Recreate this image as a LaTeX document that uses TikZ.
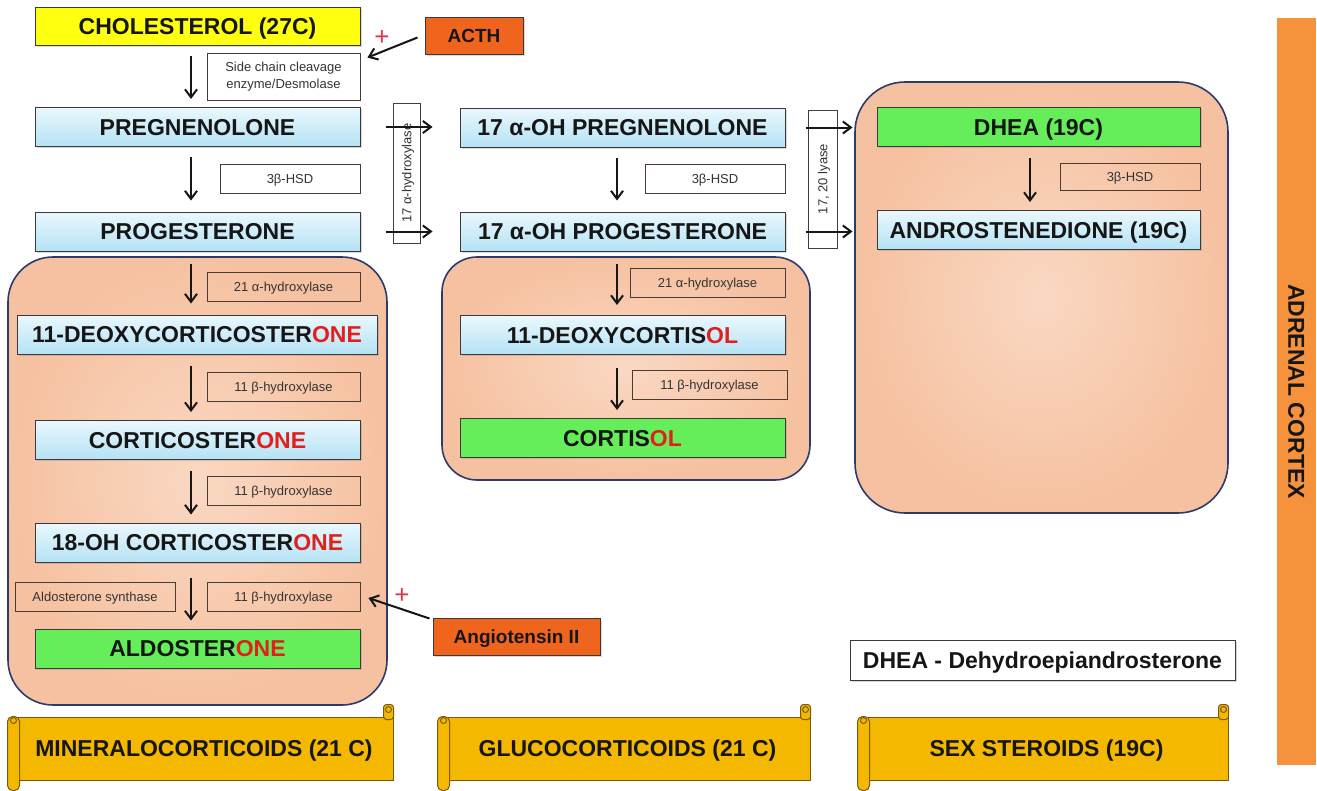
\documentclass[tikz,border=0pt]{standalone}
\usepackage{fontspec}
\setmainfont{Liberation Sans}
\usetikzlibrary{positioning,arrows.meta,fit,calc,shadows}

\definecolor{ink}{HTML}{161616}
\definecolor{boxline}{HTML}{3A3A3A}
\definecolor{yellowF}{HTML}{FFFF10}
\definecolor{blueT}{HTML}{EAF8FD}
\definecolor{blueB}{HTML}{B5E2F5}
\definecolor{greenF}{HTML}{66EE5A}
\definecolor{enzline}{HTML}{4A3B33}
\definecolor{enztext}{HTML}{333333}
\definecolor{hormF}{HTML}{F0651E}
\definecolor{peachL}{HTML}{FAD8C3}
\definecolor{peachD}{HTML}{F6C1A0}
\definecolor{panelline}{HTML}{2C3B6E}
\definecolor{scrollF}{HTML}{F5B800}
\definecolor{scrollline}{HTML}{7A5A10}
\definecolor{adrenalF}{HTML}{F7923C}
\definecolor{onered}{HTML}{E0201E}
\definecolor{plusred}{HTML}{E8334A}

\newcommand{\compfont}{\fontsize{23}{26}\selectfont\bfseries}
\newcommand{\enzfont}{\fontsize{13}{17}\selectfont}
\newcommand{\hormfont}{\fontsize{19}{22}\selectfont\bfseries}

\begin{document}
\begin{tikzpicture}[
  x=1pt, y=-1pt,
  compound/.style={draw=boxline, line width=1pt, minimum width=325pt, minimum height=39pt,
                   inner sep=0pt, font=\compfont, text=ink, text height=16.5pt, text depth=0pt,
                   drop shadow={shadow xshift=1.5pt, shadow yshift=-1.5pt, opacity=0.3}},
  bluebox/.style={compound, top color=blueT, bottom color=blueB},
  greenbox/.style={compound, fill=greenF},
  enzyme/.style={draw=enzline, line width=0.9pt, minimum width=153pt, minimum height=29pt,
                 inner sep=0pt, font=\enzfont, text=enztext, text height=9.5pt, text depth=0pt},
  hormone/.style={draw=boxline, line width=1pt, fill=hormF, minimum height=37pt,
                  inner sep=0pt, font=\hormfont, text=ink, text height=13.5pt, text depth=0pt,
                  drop shadow={shadow xshift=1.5pt, shadow yshift=-1.5pt, opacity=0.3}},
  panel/.style={draw=panelline, line width=1.6pt, rounded corners=45pt, inner sep=0pt,
                inner color=peachL, outer color=peachD},
  scroll/.style={draw=scrollline, line width=1pt, fill=scrollF, minimum height=63pt,
                 inner sep=0pt, font=\compfont, text=ink, text height=16.5pt, text depth=0pt},
  roll/.style={draw=scrollline, line width=1pt, fill=scrollF},
  arrow/.style={-{Straight Barb[length=8pt,width=12pt]}, line width=2pt, color=ink},
  plus/.style={text=plusred, font=\fontsize{26}{26}\selectfont},
]
\path[use as bounding box, fill=white] (0,0) rectangle (1317,790);

% ===== panels =====
\node[panel, fit={(8,257) (387,705)}] (pmin) {};
\node[panel, rounded corners=35pt, fit={(442,257) (810,480)}] (pglu) {};
\node[panel, rounded corners=50pt, fit={(855,82) (1228,513)}] (psex) {};

% ===== top =====
\node[compound, fill=yellowF, minimum height=38pt] (chol) at (197.5,26) {CHOLESTEROL (27C)};
\node[hormone, minimum width=98pt] (acth) at (474,35.5) {ACTH};
\node[enzyme, fill=white, minimum height=47pt, align=center, text height={}, text depth={}]
  (scc) at (283.5,76.5) {Side chain cleavage\\enzyme/Desmolase};
\node[plus] (plusA) at (382,38) {+};

% ===== left column =====
\node[bluebox] (preg) at (197.5,127) {PREGNENOLONE};
\node[enzyme, fill=white, minimum width=140pt] (hsdA) at (290,178.5) {3β-HSD};
\node[bluebox] (prog) at (197.5,231.5) {PROGESTERONE};
\node[enzyme] (hydA) at (283.5,286.5) {21 α-hydroxylase};
\node[bluebox, minimum width=360pt] (doc) at (197,334.5) {11-DEOXYCORTICOSTER\textcolor{onered}{ONE}};
\node[enzyme] (betA) at (283.5,387) {11 β-hydroxylase};
\node[bluebox] (cort) at (197.5,440) {CORTICOSTER\textcolor{onered}{ONE}};
\node[enzyme] (betB) at (283.5,491) {11 β-hydroxylase};
\node[bluebox] (ohcort) at (197.5,542.5) {18-OH CORTICOSTER\textcolor{onered}{ONE}};
\node[enzyme, minimum width=160pt] (aldsyn) at (95,597) {Aldosterone synthase};
\node[enzyme] (betC) at (283.5,597) {11 β-hydroxylase};
\node[greenbox] (aldo) at (197.5,648.5) {ALDOSTER\textcolor{onered}{ONE}};
\node[hormone, minimum width=167pt] (angio) at (516.5,636.5) {Angiotensin II};
\node[plus] (plusB) at (402,596) {+};

% ===== middle column =====
\node[enzyme, fill=white, rotate=90, minimum width=140pt, minimum height=27pt] (hyd17) at (406.5,173)
  {17 α-hydroxylase};
\node[bluebox] (ohpreg) at (622.5,127.5) {17 α-OH PREGNENOLONE};
\node[enzyme, fill=white, minimum width=140pt] (hsdB) at (715,179) {3β-HSD};
\node[bluebox] (ohprog) at (622.5,231.5) {17 α-OH PROGESTERONE};
\node[enzyme, minimum width=155pt] (hydB) at (707.5,282.5) {21 α-hydroxylase};
\node[bluebox] (dcortisol) at (622.5,335) {11-DEOXYCORTIS\textcolor{onered}{OL}};
\node[enzyme, minimum width=155pt] (betD) at (709.5,385) {11 β-hydroxylase};
\node[greenbox] (cortisol) at (622.5,438) {CORTIS\textcolor{onered}{OL}};

% ===== right column =====
\node[enzyme, fill=white, rotate=90, minimum width=138pt, minimum height=29pt] (lyase) at (822.5,179)
  {17, 20 lyase};
\node[greenbox, minimum width=323pt] (dhea) at (1038.5,127) {DHEA (19C)};
\node[enzyme, minimum width=140pt, minimum height=27pt] (hsdC) at (1130,176.5) {3β-HSD};
\node[bluebox, minimum width=323pt] (andro) at (1038.5,230) {ANDROSTENEDIONE (19C)};

\node[draw=boxline, line width=1pt, fill=white, minimum width=385pt, minimum height=40pt,
      inner sep=0pt, font=\compfont, text=ink, text height=16.5pt, text depth=0pt,
      drop shadow={shadow xshift=1.5pt, shadow yshift=-1.5pt, opacity=0.3}] (legend) at (1042.5,660)
  {DHEA - Dehydroepiandrosterone};
\node[fill=adrenalF, rotate=-90, minimum width=747pt, minimum height=39pt, inner sep=0pt,
      font=\compfont, text=ink, text height=16.5pt, text depth=0pt] (adrenal) at (1296.5,391.5)
  {ADRENAL CORTEX};

% ===== arrows =====
\coordinate (colL) at (191,0);
\coordinate (colM) at (617,0);
\coordinate (colR) at (1030,0);
\draw[arrow, shorten <=10pt, shorten >=8pt] (chol.south -| colL) -- (preg.north -| colL);
\draw[arrow, shorten <=10pt, shorten >=11pt] (preg.south -| colL) -- (prog.north -| colL);
\draw[arrow, shorten <=12pt, shorten >=11pt] (prog.south -| colL) -- (doc.north -| colL);
\draw[arrow, shorten <=11pt, shorten >=8pt] (doc.south -| colL) -- (cort.north -| colL);
\draw[arrow, shorten <=11pt, shorten >=8pt] (cort.south -| colL) -- (ohcort.north -| colL);
\draw[arrow, shorten <=15pt, shorten >=8pt] (ohcort.south -| colL) -- (aldo.north -| colL);
\draw[arrow, shorten <=10pt, shorten >=11pt] (ohpreg.south -| colM) -- (ohprog.north -| colM);
\draw[arrow, shorten <=12pt, shorten >=10pt] (ohprog.south -| colM) -- (dcortisol.north -| colM);
\draw[arrow, shorten <=13pt, shorten >=8pt] (dcortisol.south -| colM) -- (cortisol.north -| colM);
\draw[arrow, shorten <=11pt, shorten >=8pt] (dhea.south -| colR) -- (andro.north -| colR);

\draw[arrow, shorten <=25pt, shorten >=27pt] (preg.east) -- (preg.east -| ohpreg.west);
\draw[arrow, shorten <=25pt, shorten >=27pt] (prog.east) -- (prog.east -| ohprog.west);
\draw[arrow, shorten <=20pt, shorten >=24pt] (ohpreg.east) -- (ohpreg.east -| dhea.west);
\draw[arrow, shorten <=20pt, shorten >=24pt] (ohprog.east) -- (ohprog.east -| andro.west);

\draw[arrow] ($(acth.west)+(-7,2)$) -- ($(scc.north east)+(7,5)$);
\draw[arrow] ($(angio.north west)+(-3,1)$) -- ($(betC.east)+(8,1)$);

% ===== scrolls =====
\node[scroll, minimum width=378pt] (mineral) at (204,748.5) {MINERALOCORTICOIDS (21 C)};
\node[scroll, minimum width=365pt] (gluco) at (627.5,748.5) {GLUCOCORTICOIDS (21 C)};
\node[scroll, minimum width=363pt] (sexst) at (1046.5,748.5) {SEX STEROIDS (19C)};
\foreach \s in {mineral,gluco,sexst}{
  \draw[roll, rounded corners=3pt] ($(\s.north east)+(-10,-12)$) rectangle ($(\s.north east)+(0,3)$);
  \draw[roll] ($(\s.north east)+(-5,-7)$) circle (3);
  \draw[roll, rounded corners=5pt] ($(\s.north west)+(-7,0)$) rectangle ($(\s.south west)+(5,10)$);
  \draw[roll] ($(\s.north west)+(-1,4)$) circle (3);
}
\end{tikzpicture}
\end{document}
